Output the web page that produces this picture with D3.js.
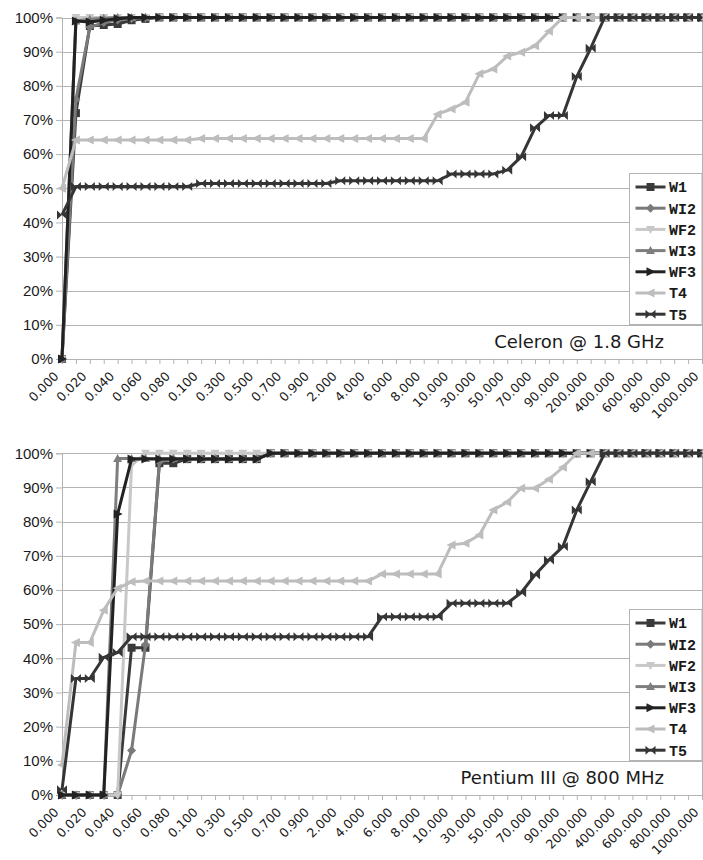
<!DOCTYPE html>
<html><head><meta charset="utf-8">
<script src="https://cdn.jsdelivr.net/npm/d3@7"></script>
<style>body{margin:0;background:#fff}svg{display:block}</style>
</head><body>
<svg id="chart" width="703" height="860"></svg>
<script>
// ---------- DATA ----------
const categories = [
  "0.000","0.010","0.020","0.030","0.040","0.050","0.060","0.070","0.080","0.090",
  "0.100","0.200","0.300","0.400","0.500","0.600","0.700","0.800","0.900","1.000",
  "2.000","3.000","4.000","5.000","6.000","7.000","8.000","9.000","10.000","20.000",
  "30.000","40.000","50.000","60.000","70.000","80.000","90.000","100.000","200.000","300.000",
  "400.000","500.000","600.000","700.000","800.000","900.000","1000.000"];
const tickLabels = ["0.000","0.020","0.040","0.060","0.080","0.100","0.300","0.500","0.700","0.900",
  "2.000","4.000","6.000","8.000","10.000","30.000","50.000","70.000","90.000","200.000",
  "400.000","600.000","800.000","1000.000"];
const yTicks = [0,10,20,30,40,50,60,70,80,90,100];
const seriesNames = ["W1","WI2","WF2","WI3","WF3","T4","T5"];
const panelTitles = ["Celeron @ 1.8 GHz","Pentium III @ 800 MHz"];

// Celeron @ 1.8 GHz (percent)
const celeronW1 = [0,72,97.5,97.8,98.1,99.2,99.6,100,100,100,
  100,100,100,100,100,100,100,100,100,100,
  100,100,100,100,100,100,100,100,100,100,
  100,100,100,100,100,100,100,100,100,100,
  100,100,100,100,100,100,100];
const celeronWI2 = [0,76,97.2,98.5,99.3,99.7,100,100,100,100,
  100,100,100,100,100,100,100,100,100,100,
  100,100,100,100,100,100,100,100,100,100,
  100,100,100,100,100,100,100,100,100,100,
  100,100,100,100,100,100,100];
const celeronWF2 = [0,100,100,100,100,100,100,100,100,100,
  100,100,100,100,100,100,100,100,100,100,
  100,100,100,100,100,100,100,100,100,100,
  100,100,100,100,100,100,100,100,100,100,
  100,100,100,100,100,100,100];
const celeronWI3 = [0,99,99.5,99.8,100,100,100,100,100,100,
  100,100,100,100,100,100,100,100,100,100,
  100,100,100,100,100,100,100,100,100,100,
  100,100,100,100,100,100,100,100,100,100,
  100,100,100,100,100,100,100];
const celeronWF3 = [0,99,98.7,99.2,99.6,100,100,100,100,100,
  100,100,100,100,100,100,100,100,100,100,
  100,100,100,100,100,100,100,100,100,100,
  100,100,100,100,100,100,100,100,100,100,
  100,100,100,100,100,100,100];
const celeronT4 = [50,64.1,64.1,64.1,64.1,64.1,64.1,64.1,64.1,64.1,
  64.6,64.6,64.6,64.6,64.6,64.6,64.6,64.6,64.6,64.6,
  64.6,64.6,64.6,64.6,64.6,64.6,64.6,71.7,73.2,75.2,
  83.5,84.9,88.7,89.8,91.7,96,100,100,100,100,
  100,100,100,100,100,100,100];
const celeronT5 = [42.2,50.5,50.5,50.5,50.5,50.5,50.5,50.5,50.5,50.5,
  51.4,51.4,51.4,51.4,51.4,51.4,51.4,51.4,51.4,51.4,
  52.2,52.2,52.2,52.2,52.2,52.2,52.2,52.2,54.2,54.2,
  54.2,54.2,55.3,59.2,67.7,71.3,71.3,82.7,91,100,
  100,100,100,100,100,100,100];

// Pentium III @ 800 MHz (percent)
const pentiumW1 = [0,0,0,0,0,43.1,43.1,97.1,97.1,98.3,
  98.3,98.3,98.3,98.3,98.3,100,100,100,100,100,
  100,100,100,100,100,100,100,100,100,100,
  100,100,100,100,100,100,100,100,100,100,
  100,100,100,100,100,100,100];
const pentiumWI2 = [0,0,0,0,0,13,44,97.5,98.3,98.3,
  98.3,98.3,98.3,98.3,98.3,100,100,100,100,100,
  100,100,100,100,100,100,100,100,100,100,
  100,100,100,100,100,100,100,100,100,100,
  100,100,100,100,100,100,100];
const pentiumWF2 = [0,0,0,0,0,96.5,100,100,100,100,
  100,100,100,100,100,100,100,100,100,100,
  100,100,100,100,100,100,100,100,100,100,
  100,100,100,100,100,100,100,100,100,100,
  100,100,100,100,100,100,100];
const pentiumWI3 = [0,0,0,0,98.5,98.5,98.5,98.5,98.5,98.5,
  98.5,98.5,98.5,98.5,98.5,100,100,100,100,100,
  100,100,100,100,100,100,100,100,100,100,
  100,100,100,100,100,100,100,100,100,100,
  100,100,100,100,100,100,100];
const pentiumWF3 = [0,0,0,0,82.2,98.3,98.3,98.3,98.3,98.3,
  98.3,98.3,98.3,98.3,98.3,100,100,100,100,100,
  100,100,100,100,100,100,100,100,100,100,
  100,100,100,100,100,100,100,100,100,100,
  100,100,100,100,100,100,100];
const pentiumT4 = [8.8,44.6,44.6,54.1,60.5,62.4,62.6,62.6,62.6,62.6,
  62.6,62.6,62.6,62.6,62.6,62.6,62.6,62.6,62.6,62.6,
  62.6,62.6,62.6,64.7,64.7,64.7,64.7,64.7,73.2,73.7,
  76.1,83.4,85.7,89.8,89.8,92.4,95.9,100,100,100,
  100,100,100,100,100,100,100];
const pentiumT5 = [1.5,34.1,34.1,40.3,41.7,46.3,46.3,46.3,46.3,46.3,
  46.3,46.3,46.3,46.3,46.3,46.3,46.3,46.3,46.3,46.3,
  46.3,46.3,46.3,52.2,52.2,52.2,52.2,52.2,56.1,56.1,
  56.1,56.1,56.1,59.2,64.4,68.8,72.7,83.4,91.7,100,
  100,100,100,100,100,100,100];

// ---------- STYLE ----------
const seriesStyle = {
  W1:  {color:"#3a3a3a", marker:"M-4,-4H4V4H-4Z"},
  WI2: {color:"#7a7a7a", marker:"M0,-4.5L4.5,0L0,4.5L-4.5,0Z"},
  WF2: {color:"#c8c8c8", marker:"M-4.5,-3.5L4.5,-3.5L0,4.5Z"},
  WI3: {color:"#7e7e7e", marker:"M-4.5,3.5L4.5,3.5L0,-4.5Z"},
  WF3: {color:"#222222", marker:"M-4,-4.5L5,0L-4,4.5Z"},
  T4:  {color:"#bdbdbd", marker:"M4,-4.5L-5,0L4,4.5Z"},
  T5:  {color:"#353535", marker:"M-5,-4.5L0,0L-5,4.5Z M5,-4.5L0,0L5,4.5Z"}
};
const gridColor = "#b3b3b3";

const panels = [
  {title: panelTitles[0], top: 17.5, bottom: 359, legendTop: 173,
   values: {W1:celeronW1, WI2:celeronWI2, WF2:celeronWF2, WI3:celeronWI3, WF3:celeronWF3, T4:celeronT4, T5:celeronT5}},
  {title: panelTitles[1], top: 453.3, bottom: 795, legendTop: 609,
   values: {W1:pentiumW1, WI2:pentiumWI2, WF2:pentiumWF2, WI3:pentiumWI3, WF3:pentiumWF3, T4:pentiumT4, T5:pentiumT5}}
];

const svg = d3.select("#chart");
const left = 62, right = 702;

panels.forEach(p => {
  const g = svg.append("g");
  const x = d3.scalePoint().domain(categories).range([left, right]);
  const y = d3.scaleLinear().domain([0, 100]).range([p.bottom, p.top]);

  // gridlines
  g.append("g").selectAll("line").data(yTicks).join("line")
    .attr("x1", left).attr("x2", right)
    .attr("y1", d => Math.round(y(d)) + 0.5).attr("y2", d => Math.round(y(d)) + 0.5)
    .attr("stroke", gridColor).attr("stroke-width", 1);
  // right border
  g.append("line").attr("x1", right + 0.5).attr("x2", right + 0.5)
    .attr("y1", Math.round(y(100)) + 0.5).attr("y2", Math.round(y(0)) + 0.5)
    .attr("stroke", gridColor);

  // y axis
  const ya = g.append("g").attr("transform", `translate(${left},0)`)
    .call(d3.axisLeft(y).tickValues(yTicks).tickFormat(d => d + "%").tickSize(6).tickPadding(3));
  ya.select(".domain").attr("stroke", gridColor);
  ya.selectAll(".tick line").attr("stroke", gridColor);
  ya.selectAll(".tick text").attr("font-family", "'Liberation Sans', Arial, sans-serif")
    .attr("font-size", 15).attr("fill", "#1a1a1a");

  // x axis
  const xa = g.append("g").attr("transform", `translate(0,${Math.round(y(0))})`)
    .call(d3.axisBottom(x).tickSize(5).tickFormat(d => tickLabels.includes(d) ? d : ""));
  xa.select(".domain").attr("stroke", gridColor);
  xa.selectAll(".tick line").attr("stroke", gridColor);
  xa.selectAll(".tick text")
    .attr("font-family", "'DejaVu Sans', sans-serif").attr("font-size", 12.6).attr("fill", "#1a1a1a")
    .attr("y", null).attr("dy", null)
    .attr("text-anchor", "end")
    .attr("transform", "translate(-3,18) rotate(-45)");

  // series
  const line = d3.line().x((d, i) => x(categories[i])).y(d => y(d));
  seriesNames.forEach(name => {
    const st = seriesStyle[name];
    const vals = p.values[name];
    const sg = g.append("g");
    sg.append("path").datum(vals).attr("d", line)
      .attr("fill", "none").attr("stroke", st.color).attr("stroke-width", 3)
      .attr("stroke-linejoin", "round");
    sg.selectAll("path.m").data(vals).join("path").attr("class", "m")
      .attr("d", st.marker)
      .attr("transform", (d, i) => `translate(${x(categories[i])},${y(d)})`)
      .attr("fill", st.color);
  });

  // legend
  const lg = g.append("g").attr("transform", `translate(629.5,${p.legendTop + 0.5})`);
  lg.append("rect").attr("width", 72.5).attr("height", 151)
    .attr("fill", "#fff").attr("stroke", gridColor);
  seriesNames.forEach((name, i) => {
    const st = seriesStyle[name];
    const cy = 13.5 + i * 21.2;
    lg.append("line").attr("x1", 6).attr("x2", 36).attr("y1", cy).attr("y2", cy)
      .attr("stroke", st.color).attr("stroke-width", 3);
    lg.append("path").attr("d", st.marker).attr("transform", `translate(21,${cy})`).attr("fill", st.color);
    lg.append("text").attr("x", 39.5).attr("y", cy).attr("dy", "0.36em")
      .attr("font-family", "'Liberation Mono', 'Courier New', monospace").attr("font-weight", "bold")
      .attr("font-size", 15).attr("fill", "#1a1a1a").text(name);
  });

  // title
  g.append("text").attr("x", 664).attr("y", p.bottom - 11.5)
    .attr("text-anchor", "end").attr("font-family", "'DejaVu Sans', sans-serif")
    .attr("font-size", 18).attr("fill", "#1a1a1a").text(p.title);
});
</script>
</body></html>
